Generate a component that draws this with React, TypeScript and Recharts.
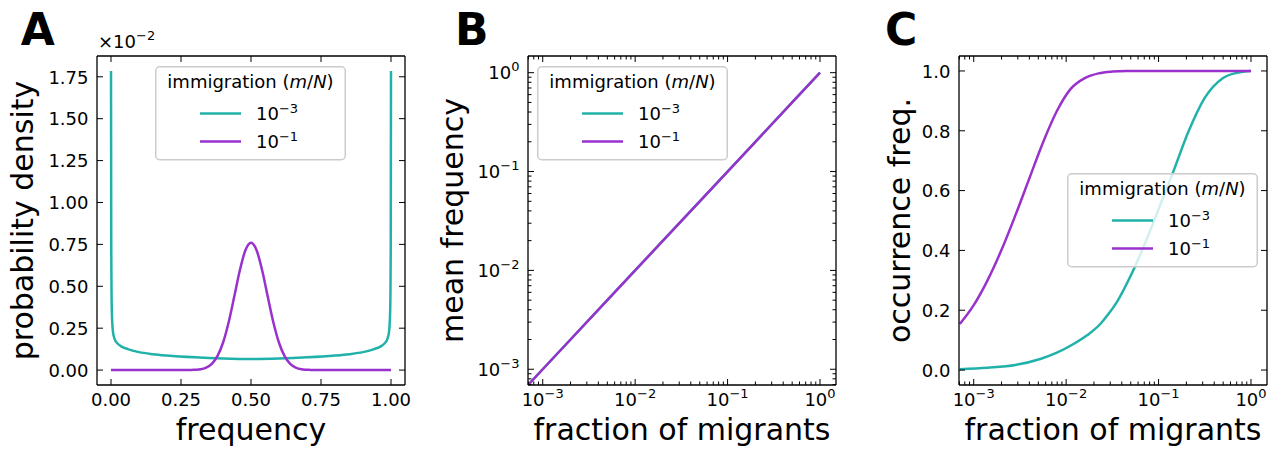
import React from 'react'
import { LineChart, Line, XAxis, YAxis, Legend } from 'recharts'

const TEAL = '#20b2aa'
const PURPLE = '#9932cc'
const FONT = 'DejaVu Sans'

// A: probability density (x 1e-2) vs frequency
const freqLow = [0, 0.001, 0.002, 0.004, 0.007, 0.012, 0.02, 0.035, 0.06, 0.1, 0.15, 0.2, 0.3, 0.4, 0.5, 0.6, 0.7, 0.8, 0.85, 0.9, 0.94, 0.965, 0.98, 0.988, 0.993, 0.996, 0.998, 0.999, 1]
const densLow = [1.785, 0.7, 0.45, 0.3, 0.23, 0.19, 0.165, 0.143, 0.125, 0.107, 0.095, 0.087, 0.076, 0.069, 0.066, 0.069, 0.076, 0.087, 0.095, 0.107, 0.125, 0.143, 0.165, 0.19, 0.23, 0.3, 0.45, 0.7, 1.785]
const freqHigh = [0, 0.1, 0.2, 0.28, 0.3, 0.32, 0.34, 0.36, 0.38, 0.4, 0.42, 0.44, 0.46, 0.48, 0.5, 0.52, 0.54, 0.56, 0.58, 0.6, 0.62, 0.64, 0.66, 0.68, 0.7, 0.72, 0.8, 0.9, 1]
const densHigh = [0, 0, 0, 0, 0.002, 0.005, 0.015, 0.037, 0.083, 0.163, 0.284, 0.437, 0.594, 0.715, 0.76, 0.715, 0.594, 0.437, 0.284, 0.163, 0.083, 0.037, 0.015, 0.005, 0.002, 0, 0, 0, 0]
const freqTicks = [0, 0.25, 0.5, 0.75, 1]
const densTicks = [0, 0.25, 0.5, 0.75, 1, 1.25, 1.5, 1.75]

// B: mean frequency vs fraction of migrants
const migrantsB = [0.0007, 0.001, 0.002, 0.005, 0.01, 0.02, 0.05, 0.1, 0.2, 0.5, 1]
const meanLow = [0.0007, 0.001, 0.002, 0.005, 0.01, 0.02, 0.05, 0.1, 0.2, 0.5, 1]
const meanHigh = [0.0007, 0.001, 0.002, 0.005, 0.01, 0.02, 0.05, 0.1, 0.2, 0.5, 1]

// C: occurrence frequency vs fraction of migrants
const migrantsLowC = [0.000708, 0.00141, 0.00282, 0.00525, 0.00794, 0.012, 0.017, 0.0234, 0.0288, 0.0355, 0.049, 0.0631, 0.0813, 0.112, 0.145, 0.209, 0.316, 0.49, 0.708, 1]
const occLow = [0.003, 0.008, 0.017, 0.037, 0.058, 0.087, 0.117, 0.154, 0.188, 0.228, 0.31, 0.385, 0.467, 0.577, 0.665, 0.795, 0.91, 0.975, 0.994, 1]
const migrantsHighC = [0.000708, 0.001, 0.00141, 0.002, 0.00282, 0.00398, 0.00562, 0.00794, 0.0112, 0.0159, 0.0224, 0.0316, 0.0447, 0.1, 0.3, 1]
const occHigh = [0.154, 0.217, 0.3, 0.402, 0.517, 0.639, 0.761, 0.866, 0.94, 0.976, 0.992, 0.998, 1, 1, 1, 1]
const occTicks = [0, 0.2, 0.4, 0.6, 0.8, 1]

const logMajor = [0.001, 0.01, 0.1, 1]
const logMinor = [
  0.0007, 0.0008, 0.0009,
  0.002, 0.003, 0.004, 0.005, 0.006, 0.007, 0.008, 0.009,
  0.02, 0.03, 0.04, 0.05, 0.06, 0.07, 0.08, 0.09,
  0.2, 0.3, 0.4, 0.5, 0.6, 0.7, 0.8, 0.9,
]
const logTicks = [...logMinor, ...logMajor].sort((a, b) => a - b)
const logDomainX = [0.000693, 1.49]
const logDomainY = [0.000693, 1.475]

const immigration = ['\u22123', '\u22121']

const zip = (xs: number[], ys: number[]) => xs.map((x, i) => ({ x, y: ys[i] }))

const pow10 = (v: number) => {
  const e = Math.round(Math.log10(v))
  return (
    <>
      10<tspan dy={-8} fontSize={13}>{e < 0 ? '\u2212' + -e : String(e)}</tspan>
    </>
  )
}

type Side = 'bottom' | 'top' | 'left' | 'right'

// matplotlib-like inward ticks, labels drawn outside
const makeTick = (side: Side, edge: number, majors: number[], fmt?: (v: number) => React.ReactNode) =>
  (props: any) => {
    const v = props.payload.value
    const c = props.payload.coordinate
    const major = majors.includes(v)
    const len = major ? 6 : 3.5
    const horiz = side === 'bottom' || side === 'top'
    const dir = side === 'bottom' || side === 'right' ? -1 : 1
    let label = null
    if (fmt && major) {
      label =
        side === 'bottom' ? (
          <text x={c} y={edge + 20.5} textAnchor="middle" fontFamily={FONT} fontSize={18} fill="#000">
            {fmt(v)}
          </text>
        ) : (
          <text x={edge - 8.5} y={c + 6.8} textAnchor="end" fontFamily={FONT} fontSize={18} fill="#000">
            {fmt(v)}
          </text>
        )
    }
    return (
      <g>
        {horiz ? (
          <line x1={c} x2={c} y1={edge} y2={edge + dir * len} stroke="#000" strokeWidth={1} />
        ) : (
          <line x1={edge} x2={edge + dir * len} y1={c} y2={c} stroke="#000" strokeWidth={1} />
        )}
        {label}
      </g>
    )
  }

const XTitle = ({ text, cx }: any) => (
  <text x={cx} y={439.5} textAnchor="middle" fontFamily={FONT} fontSize={30} fill="#000">
    {text}
  </text>
)

const YTitle = ({ text, bx }: any) => (
  <text
    x={bx}
    y={220.5}
    transform={`rotate(-90, ${bx}, 220.5)`}
    textAnchor="middle"
    fontFamily={FONT}
    fontSize={30}
    fill="#000"
  >
    {text}
  </text>
)

const PanelHead = ({ letter, lx, showOffset }: any) => (
  <g>
    <text x={lx} y={45} fontFamily={FONT} fontWeight="bold" fontSize={44} fill="#000">
      {letter}
    </text>
    {showOffset === true && (
      <text x={98} y={48.3} fontFamily={FONT} fontSize={18} fill="#000">
        {'\u00d710'}
        <tspan dy={-8} fontSize={13}>
          {'\u22122'}
        </tspan>
      </text>
    )}
  </g>
)

function ImmigrationLegend(props: any) {
  const items = props.payload || []
  const ordered = immigration.map((name) => items.find((p: any) => p.value === name)).filter(Boolean)
  return (
    <svg width={191} height={95} style={{ display: 'block' }}>
      <rect x={0.75} y={0.75} width={189.5} height={93} rx={4} fill="#fff" fillOpacity={0.8} stroke="#cccccc" strokeWidth={1.5} />
      <text x={95.5} y={22} textAnchor="middle" fontFamily={FONT} fontSize={18} fill="#000">
        immigration (<tspan fontStyle="italic">m</tspan>/<tspan fontStyle="italic">N</tspan>)
      </text>
      {ordered.map((it: any, i: number) => (
        <g key={i}>
          <line x1={45} x2={86} y1={47.6 + i * 28} y2={47.6 + i * 28} stroke={it.color} strokeWidth={2.5} />
          <text x={101} y={53.6 + i * 28.5} fontFamily={FONT} fontSize={18} fill="#000">
            10<tspan dy={-7} fontSize={13}>{it.value}</tspan>
          </text>
        </g>
      ))}
    </svg>
  )
}

const axisLine = { stroke: '#000', strokeWidth: 1.3 }

// axis band sizes; chart margins are the remainder so the plot box lands where it should
const BOTTOM_H = 30
const TOP_H = 20
const LEFT_W = 40
const RIGHT_W = 5

const chartMargin = (box: { left: number; right: number; top: number; bottom: number }, w: number) => ({
  top: box.top - TOP_H,
  bottom: 450 - box.bottom - BOTTOM_H,
  left: box.left - LEFT_W,
  right: w - box.right - RIGHT_W,
})

export default function App() {
  // panel A: plot box 97..405 x 56..385
  const a = { left: 97, right: 405, top: 56, bottom: 385 }
  // panel B chart starts at 425, plot 103..411 local
  const b = { left: 103, right: 411, top: 56, bottom: 385 }
  // panel C chart starts at 852, plot 107..415 local
  const c = { left: 107, right: 415, top: 56, bottom: 385 }

  return (
    <div style={{ position: 'absolute', left: 0, top: 0, width: 1277, height: 450, background: '#fff' }}>
      <div style={{ position: 'absolute', left: 0, top: 0 }}>
        <LineChart width={425} height={450} margin={chartMargin(a, 425)}>
          <XAxis
            xAxisId="b"
            type="number"
            dataKey="x"
            domain={[-0.05, 1.05]}
            allowDataOverflow
            ticks={freqTicks}
            interval={0}
            height={BOTTOM_H}
            tickSize={0}
            tickLine={false}
            axisLine={axisLine}
            tick={makeTick('bottom', a.bottom, freqTicks, (v) => v.toFixed(2))}
            label={<XTitle text="frequency" cx={(a.left + a.right) / 2} />}
          />
          <XAxis
            xAxisId="t"
            orientation="top"
            type="number"
            dataKey="x"
            domain={[-0.05, 1.05]}
            allowDataOverflow
            ticks={freqTicks}
            interval={0}
            height={TOP_H}
            tickSize={0}
            tickLine={false}
            axisLine={axisLine}
            tick={makeTick('top', a.top, freqTicks)}
            label={<PanelHead letter="A" lx={20.7} showOffset={true} />}
          />
          <YAxis
            yAxisId="l"
            type="number"
            dataKey="y"
            domain={[-0.089, 1.874]}
            allowDataOverflow
            ticks={densTicks}
            interval={0}
            width={LEFT_W}
            tickSize={0}
            tickLine={false}
            axisLine={axisLine}
            tick={makeTick('left', a.left, densTicks, (v) => v.toFixed(2))}
            label={<YTitle text="probability density" bx={33.3} />}
          />
          <YAxis
            yAxisId="r"
            orientation="right"
            type="number"
            dataKey="y"
            domain={[-0.089, 1.874]}
            allowDataOverflow
            ticks={densTicks}
            interval={0}
            width={RIGHT_W}
            tickSize={0}
            tickLine={false}
            axisLine={axisLine}
            tick={makeTick('right', a.right, densTicks)}
          />
          <Line xAxisId="b" yAxisId="l" data={zip(freqLow, densLow)} dataKey="y" name={immigration[0]} type="monotone" stroke={TEAL} strokeWidth={2.5} dot={false} isAnimationActive={false} />
          <Line xAxisId="b" yAxisId="l" data={zip(freqHigh, densHigh)} dataKey="y" name={immigration[1]} type="monotone" stroke={PURPLE} strokeWidth={2.5} dot={false} isAnimationActive={false} />
          <Legend
            layout="horizontal"
            verticalAlign="middle"
            align="center"
            content={<ImmigrationLegend />}
            wrapperStyle={{ left: 155, top: 65.7, width: 191, height: 95 }}
          />
        </LineChart>
      </div>

      <div style={{ position: 'absolute', left: 425, top: 0 }}>
        <LineChart width={427} height={450} margin={chartMargin(b, 427)}>
          <XAxis
            xAxisId="b"
            type="number"
            dataKey="x"
            scale="log"
            domain={logDomainX}
            allowDataOverflow
            ticks={logTicks}
            interval={0}
            height={BOTTOM_H}
            tickSize={0}
            tickLine={false}
            axisLine={axisLine}
            tick={makeTick('bottom', b.bottom, logMajor, pow10)}
            label={<XTitle text="fraction of migrants" cx={(b.left + b.right) / 2} />}
          />
          <XAxis
            xAxisId="t"
            orientation="top"
            type="number"
            dataKey="x"
            scale="log"
            domain={logDomainX}
            allowDataOverflow
            ticks={logTicks}
            interval={0}
            height={TOP_H}
            tickSize={0}
            tickLine={false}
            axisLine={axisLine}
            tick={makeTick('top', b.top, logMajor)}
            label={<PanelHead letter="B" lx={30} />}
          />
          <YAxis
            yAxisId="l"
            type="number"
            dataKey="y"
            scale="log"
            domain={logDomainY}
            allowDataOverflow
            ticks={logTicks}
            interval={0}
            width={LEFT_W}
            tickSize={0}
            tickLine={false}
            axisLine={axisLine}
            tick={makeTick('left', b.left, logMajor, pow10)}
            label={<YTitle text="mean frequency" bx={38.3} />}
          />
          <YAxis
            yAxisId="r"
            orientation="right"
            type="number"
            dataKey="y"
            scale="log"
            domain={logDomainY}
            allowDataOverflow
            ticks={logTicks}
            interval={0}
            width={RIGHT_W}
            tickSize={0}
            tickLine={false}
            axisLine={axisLine}
            tick={makeTick('right', b.right, logMajor)}
          />
          <Line xAxisId="b" yAxisId="l" data={zip(migrantsB, meanLow)} dataKey="y" name={immigration[0]} type="linear" stroke={TEAL} strokeWidth={2.5} dot={false} isAnimationActive={false} />
          <Line xAxisId="b" yAxisId="l" data={zip(migrantsB, meanHigh)} dataKey="y" name={immigration[1]} type="linear" stroke={PURPLE} strokeWidth={2.5} dot={false} isAnimationActive={false} />
          <Legend
            layout="horizontal"
            verticalAlign="middle"
            align="center"
            content={<ImmigrationLegend />}
            wrapperStyle={{ left: 112.3, top: 65.7, width: 191, height: 95 }}
          />
        </LineChart>
      </div>

      <div style={{ position: 'absolute', left: 852, top: 0 }}>
        <LineChart width={425} height={450} margin={chartMargin(c, 425)}>
          <XAxis
            xAxisId="b"
            type="number"
            dataKey="x"
            scale="log"
            domain={logDomainX}
            allowDataOverflow
            ticks={logTicks}
            interval={0}
            height={BOTTOM_H}
            tickSize={0}
            tickLine={false}
            axisLine={axisLine}
            tick={makeTick('bottom', c.bottom, logMajor, pow10)}
            label={<XTitle text="fraction of migrants" cx={(c.left + c.right) / 2} />}
          />
          <XAxis
            xAxisId="t"
            orientation="top"
            type="number"
            dataKey="x"
            scale="log"
            domain={logDomainX}
            allowDataOverflow
            ticks={logTicks}
            interval={0}
            height={TOP_H}
            tickSize={0}
            tickLine={false}
            axisLine={axisLine}
            tick={makeTick('top', c.top, logMajor)}
            label={<PanelHead letter="C" lx={33} />}
          />
          <YAxis
            yAxisId="l"
            type="number"
            dataKey="y"
            domain={[-0.05, 1.05]}
            allowDataOverflow
            ticks={occTicks}
            interval={0}
            width={LEFT_W}
            tickSize={0}
            tickLine={false}
            axisLine={axisLine}
            tick={makeTick('left', c.left, occTicks, (v) => v.toFixed(1))}
            label={<YTitle text="occurrence freq." bx={58} />}
          />
          <YAxis
            yAxisId="r"
            orientation="right"
            type="number"
            dataKey="y"
            domain={[-0.05, 1.05]}
            allowDataOverflow
            ticks={occTicks}
            interval={0}
            width={RIGHT_W}
            tickSize={0}
            tickLine={false}
            axisLine={axisLine}
            tick={makeTick('right', c.right, occTicks)}
          />
          <Line xAxisId="b" yAxisId="l" data={zip(migrantsLowC, occLow)} dataKey="y" name={immigration[0]} type="monotone" stroke={TEAL} strokeWidth={2.5} dot={false} isAnimationActive={false} />
          <Line xAxisId="b" yAxisId="l" data={zip(migrantsHighC, occHigh)} dataKey="y" name={immigration[1]} type="monotone" stroke={PURPLE} strokeWidth={2.5} dot={false} isAnimationActive={false} />
          <Legend
            layout="horizontal"
            verticalAlign="middle"
            align="center"
            content={<ImmigrationLegend />}
            wrapperStyle={{ left: 215.3, top: 173.3, width: 191, height: 95 }}
          />
        </LineChart>
      </div>
    </div>
  )
}
